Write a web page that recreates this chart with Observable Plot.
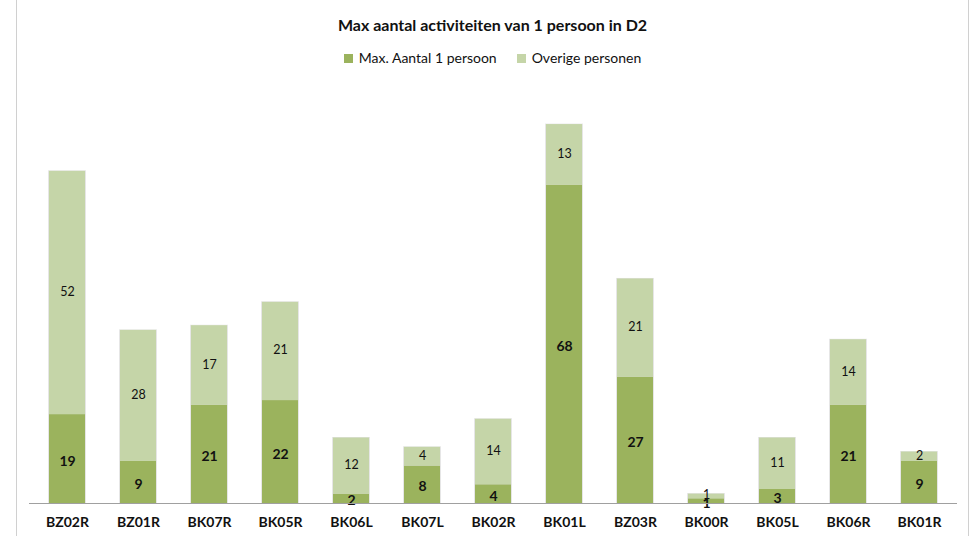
<!DOCTYPE html>
<html>
<head>
<meta charset="utf-8">
<script src="https://cdn.jsdelivr.net/npm/d3@7"></script>
<script src="https://cdn.jsdelivr.net/npm/@observablehq/plot@0.6"></script>
<style>
  html, body { margin: 0; padding: 0; background: #fff; }
  body { width: 973px; height: 536px; overflow: hidden; position: relative; font-family: Lato, "Open Sans", sans-serif; }
  #frameL, #frameR { position: absolute; top: 0; bottom: 0; width: 1px; background: #d0d0d0; z-index: 5; }
  #frameL { left: 16px; } #frameR { left: 968px; }
  #title { position: absolute; top: 15px; left: 0; width: 985px; text-align: center; font-weight: bold; font-size: 16px; color: #111; }
  #legend { position: absolute; top: 49px; left: 0; width: 985px; text-align: center; font-size: 14px; color: #111; }
  #legend span.item { margin: 0 10px; }
  #legend span.sw { display: inline-block; width: 9px; height: 9px; margin-right: 6px; vertical-align: 0px; }
  #chart { position: absolute; top: 75px; left: 0; }
</style>
</head>
<body>
<div id="frameL"></div><div id="frameR"></div>
<div id="title">Max aantal activiteiten van 1 persoon in D2</div>
<div id="legend"></div>
<div id="chart"></div>
<script>
const categories = ["BZ02R","BZ01R","BK07R","BK05R","BK06L","BK07L","BK02R","BK01L","BZ03R","BK00R","BK05L","BK06R","BK01R"];
const maxOnePerson = [19, 9, 21, 22, 2, 8, 4, 68, 27, 1, 3, 21, 9];
const otherPersons = [52, 28, 17, 21, 12, 4, 14, 13, 21, 1, 11, 14, 2];
const seriesNames = ["Max. Aantal 1 persoon", "Overige personen"];
const seriesColors = ["#9bb35d", "#c5d5a8"];

const legend = document.getElementById("legend");
seriesNames.forEach((n, i) => {
  const s = document.createElement("span");
  s.className = "item";
  s.innerHTML = `<span class="sw" style="background:${seriesColors[i]}"></span>${n}`;
  legend.appendChild(s);
});

const data = [];
categories.forEach((c, i) => {
  data.push({cat: c, series: seriesNames[0], value: maxOnePerson[i]});
  data.push({cat: c, series: seriesNames[1], value: otherPersons[i]});
});

const chart = Plot.plot({
  width: 973,
  height: 461,
  marginLeft: 29,
  marginRight: 16,
  marginTop: 7,
  marginBottom: 33,
  style: {fontFamily: "Lato, 'Open Sans', sans-serif", background: "transparent"},
  x: {domain: categories, paddingInner: 0.5, paddingOuter: 0.25, label: null},
  y: {domain: [0, 90], axis: null},
  color: {domain: seriesNames, range: seriesColors},
  marks: [
    Plot.barY(data, {x: "cat", y: "value", fill: "series", order: seriesNames, stroke: "#e6e6e6", strokeWidth: 1, insetLeft: -0.5, insetRight: -0.5}),
    Plot.barY(data, {x: "cat", y: "value", fill: "series", order: seriesNames}),
    Plot.text(data, Plot.stackY({
      x: "cat", y: "value", z: "series", order: seriesNames,
      text: d => d.series === seriesNames[1] ? String(d.value) : null,
      fontSize: 12.5, fill: "#111", dy: -1})),
    Plot.text(data, Plot.stackY({
      x: "cat", y: "value", z: "series", order: seriesNames,
      text: d => d.series === seriesNames[0] ? String(d.value) : null,
      fontSize: 14, fontWeight: "bold", fill: "#111", dy: 2})),
    Plot.ruleY([0], {stroke: "#a0a0a0", strokeWidth: 1}),
    Plot.axisX({tickSize: 0, tickPadding: 14, fontWeight: "bold", fontSize: 14, fill: "#111", label: null})
  ]
});
document.getElementById("chart").appendChild(chart);
</script>
</body>
</html>
